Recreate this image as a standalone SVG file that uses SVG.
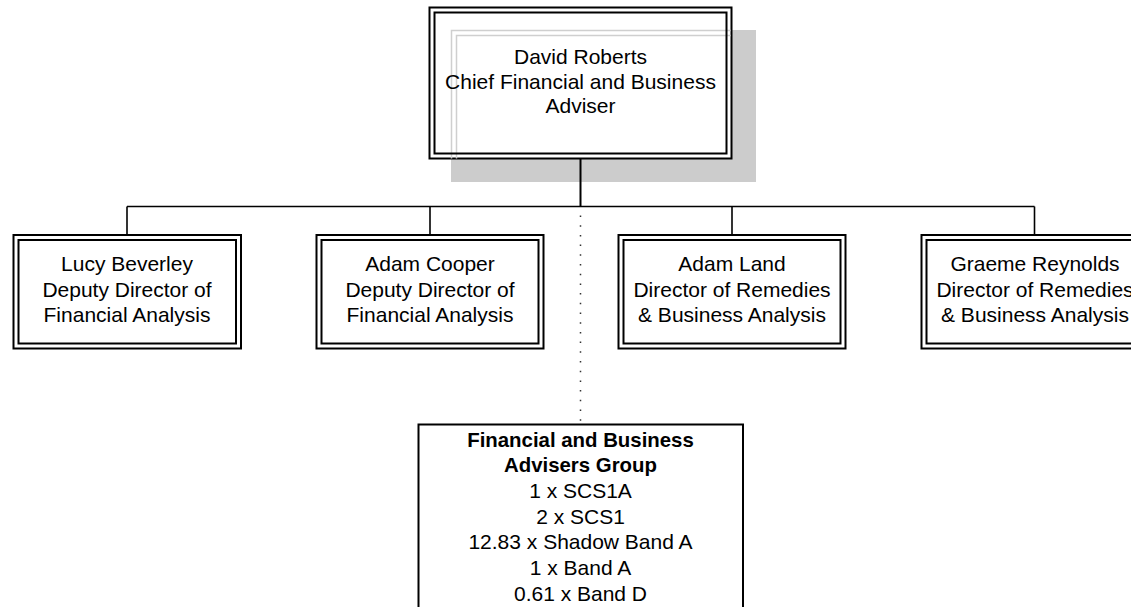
<svg xmlns="http://www.w3.org/2000/svg" width="1131" height="607" viewBox="0 0 1131 607">
<style>
text{font-family:"Liberation Sans",Arial,sans-serif;font-size:21px;fill:#000;text-anchor:middle}
.b{font-weight:bold;font-size:20.4px}
.outer{fill:#fff;stroke:#000;stroke-width:2}
.inner{fill:none;stroke:#000;stroke-width:2}
.ghost{fill:none;stroke:#cfcfcf;stroke-width:1.5}
.conn{fill:none;stroke:#000;stroke-width:1.6}
.dot{fill:none;stroke:#333;stroke-width:1.5;stroke-dasharray:1.5 8.2}
</style>
<rect x="451" y="30" width="305" height="152" fill="#cccccc"/>
<g id="connectors">
<line class="conn" x1="580.5" y1="158.5" x2="580.5" y2="206.5" style="stroke-width:2"/>
<line class="conn" x1="127" y1="206.5" x2="1034.5" y2="206.5"/>
<line class="conn" x1="127" y1="206.5" x2="127" y2="235"/>
<line class="conn" x1="430" y1="206.5" x2="430" y2="235"/>
<line class="conn" x1="732" y1="206.5" x2="732" y2="235"/>
<line class="conn" x1="1034.5" y1="206.5" x2="1034.5" y2="235"/>
<line class="dot" x1="580.5" y1="215.5" x2="580.5" y2="424"/>
</g>
<g id="node-david">
<rect class="outer" x="429.5" y="7.5" width="302" height="151"/>
<path class="ghost" d="M451.5 158.5 V30.5 H730.5 M456.5 158.5 V35.5 H730.5"/>
<rect class="inner" x="434.5" y="12.5" width="292" height="141"/>
<text x="580.5" y="64">David Roberts</text>
<text x="580.5" y="88.6">Chief Financial and Business</text>
<text x="580.5" y="113.2">Adviser</text>
</g>
<g id="node-lucy">
<rect class="outer" x="13.5" y="235" width="227.5" height="113.5"/>
<rect class="inner" x="18.5" y="240" width="217.5" height="103.5"/>
<text x="127" y="271">Lucy Beverley</text>
<text x="127" y="296.5">Deputy Director of</text>
<text x="127" y="322">Financial Analysis</text>
</g>
<g id="node-cooper">
<rect class="outer" x="316.5" y="235" width="227" height="113.5"/>
<rect class="inner" x="321.5" y="240" width="217" height="103.5"/>
<text x="430" y="271">Adam Cooper</text>
<text x="430" y="296.5">Deputy Director of</text>
<text x="430" y="322">Financial Analysis</text>
</g>
<g id="node-land">
<rect class="outer" x="618.5" y="235" width="227" height="113.5"/>
<rect class="inner" x="623.5" y="240" width="217" height="103.5"/>
<text x="732" y="271">Adam Land</text>
<text x="732" y="296.5">Director of Remedies</text>
<text x="732" y="322">&amp; Business Analysis</text>
</g>
<g id="node-reynolds">
<rect class="outer" x="921.5" y="235" width="227" height="113.5"/>
<rect class="inner" x="926.5" y="240" width="217" height="103.5"/>
<text x="1035" y="271">Graeme Reynolds</text>
<text x="1035" y="296.5">Director of Remedies</text>
<text x="1035" y="322">&amp; Business Analysis</text>
</g>
<g id="node-group">
<rect class="outer" x="418.5" y="424.5" width="324.5" height="200"/>
<text class="b" x="580.5" y="446.5">Financial and Business</text>
<text class="b" x="580.5" y="472.2">Advisers Group</text>
<text x="580.5" y="497.9">1 x SCS1A</text>
<text x="580.5" y="523.6">2 x SCS1</text>
<text x="580.5" y="549.3">12.83 x Shadow Band A</text>
<text x="580.5" y="575">1 x Band A</text>
<text x="580.5" y="600.7">0.61 x Band D</text>
</g>
</svg>
